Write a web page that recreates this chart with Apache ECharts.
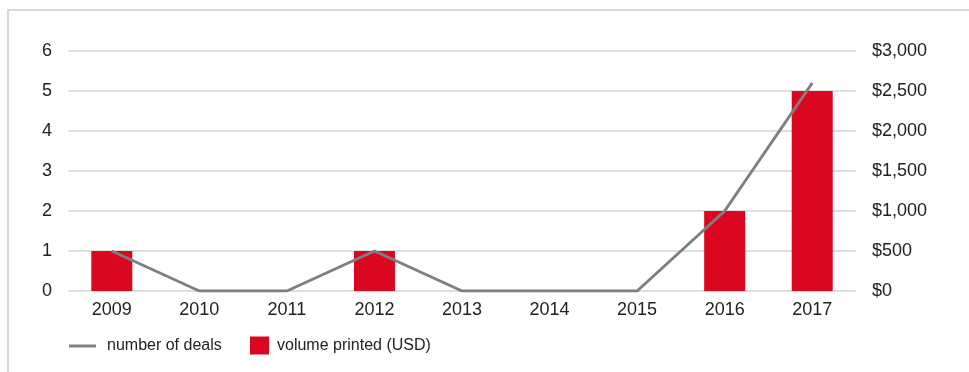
<!DOCTYPE html>
<html>
<head>
<meta charset="utf-8">
<script src="https://cdn.jsdelivr.net/npm/echarts@6/dist/echarts.min.js"></script>
<style>
html,body{margin:0;padding:0;background:#fff;}
#c{width:969px;height:372px;}
</style>
</head>
<body>
<div id="c"></div>
<script>
const years = ['2009','2010','2011','2012','2013','2014','2015','2016','2017'];
const numberOfDeals = [1, 0, 0, 1, 0, 0, 0, 2, 5.2];
const volumePrinted = [500, 0, 0, 500, 0, 0, 0, 1000, 2500];
const leftTicks = {min: 0, max: 6, interval: 1};
const rightTicks = {min: 0, max: 3000, interval: 500};

const chart = echarts.init(document.getElementById('c'));
const font = 'Liberation Sans, Arial, sans-serif';
const gridLine = {show: true, lineStyle: {color: '#d4d4d4', width: 1.5}};
chart.setOption({
  animation: false,
  textStyle: {fontFamily: font},
  graphic: [{
    type: 'polyline',
    shape: {points: [[8, 400], [8, 10], [990, 10]]},
    style: {stroke: '#d9d9d9', lineWidth: 2, fill: null}
  }],
  grid: {left: 68, right: 113, top: 51, bottom: 81},
  xAxis: {
    type: 'category',
    data: years,
    axisLine: {show: false},
    axisTick: {show: false},
    axisLabel: {color: '#222', fontSize: 18, margin: 10, fontFamily: font}
  },
  yAxis: [{
    type: 'value',
    min: leftTicks.min, max: leftTicks.max, interval: leftTicks.interval,
    axisLine: {show: false}, axisTick: {show: false},
    splitLine: gridLine,
    axisLabel: {color: '#222', fontSize: 18, margin: 16, fontFamily: font}
  }, {
    type: 'value',
    min: rightTicks.min, max: rightTicks.max, interval: rightTicks.interval,
    axisLine: {show: false}, axisTick: {show: false},
    splitLine: {show: false},
    axisLabel: {color: '#222', fontSize: 18, margin: 16, fontFamily: font,
      formatter: v => '$' + v.toLocaleString('en-US')}
  }],
  legend: [{
    left: 64, top: 333,
    itemWidth: 27, itemHeight: 3,
    textStyle: {color: '#222', fontSize: 16, fontFamily: font, padding: [0, 0, 0, 6]},
    data: [{name: 'number of deals', icon: 'rect', itemStyle: {color: '#7f7f7f'}}]
  }, {
    left: 245, top: 331.5,
    itemWidth: 19, itemHeight: 18,
    textStyle: {color: '#222', fontSize: 16, fontFamily: font, padding: [0, 0, 0, 3]},
    data: [{name: 'volume printed (USD)', icon: 'rect'}]
  }],
  series: [{
    name: 'volume printed (USD)',
    type: 'bar',
    yAxisIndex: 1,
    data: volumePrinted,
    barWidth: 41,
    itemStyle: {color: '#db0720'},
    z: 2
  }, {
    name: 'number of deals',
    type: 'line',
    yAxisIndex: 0,
    data: numberOfDeals,
    symbol: 'none',
    lineStyle: {color: '#7f7f7f', width: 3},
    itemStyle: {color: '#7f7f7f'},
    z: 3
  }]
});
</script>
</body>
</html>
